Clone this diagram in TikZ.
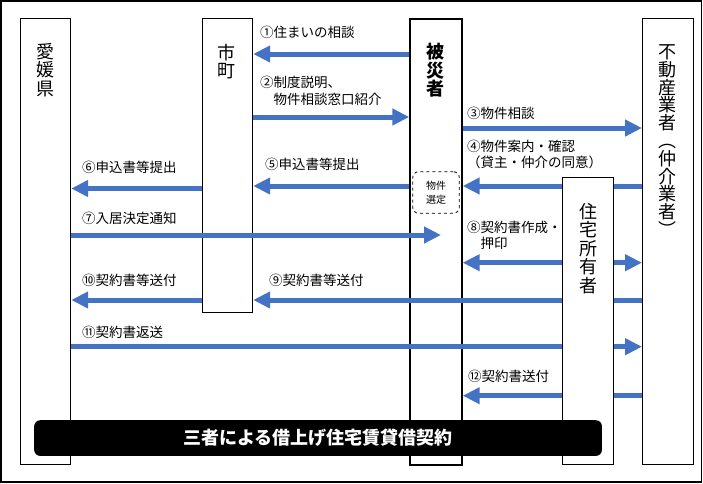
\documentclass[tikz,border=0pt]{standalone}
\usepackage{fontspec}
\setmainfont{Noto Sans CJK JP}
\usetikzlibrary{arrows.meta}
\definecolor{arrblue}{HTML}{4472C4}
\begin{document}
\begin{tikzpicture}[x=1pt,y=-1pt,
 colbox/.style={draw=black, line width=0.9pt, fill=white, inner sep=0pt, anchor=north west},
 coltext/.style={font=\fontsize{18}{18.6}\selectfont, align=center, inner sep=0pt},
 lbl/.style={font=\fontsize{13.5}{16.5}\selectfont, align=left, inner sep=0pt, anchor=west},
 arr/.style={draw=arrblue, line width=5pt, -{Triangle[length=17pt,width=16pt]}},
 darr/.style={draw=arrblue, line width=5pt, {Triangle[length=17pt,width=16pt]}-{Triangle[length=17pt,width=16pt]}},
 bluebar/.style={draw=arrblue, line width=5pt}]
\useasboundingbox (0,0) rectangle (703,483);
\draw[line width=1.2pt] (1,1) rectangle (701.8,482);
% columns
\node[colbox, minimum width=50.3pt, minimum height=445.7pt] (ehime) at (20,18.3) {};
\node[colbox, minimum width=50.8pt, minimum height=293.7pt] (shicho) at (201.5,18.3) {};
\node[colbox, line width=2pt, minimum width=51.4pt, minimum height=445.7pt] (hisai) at (409.3,18.3) {};
\node[colbox, minimum width=51pt, minimum height=445.7pt] (fudo) at (642,18.3) {};
\node[coltext] (ehimet) at (45.2,70) {愛\\媛\\県};
\node[coltext] (shichot) at (226.9,61.5) {市\\町};
\node[coltext, font=\fontsize{18}{18.6}\selectfont\bfseries] (hisait) at (435,70.5) {被\\災\\者};
\node[coltext, font=\fontsize{18}{17.8}\selectfont] (fudot) at (667.5,140.5) {不\\動\\産\\業\\者\\︵\\仲\\介\\業\\者\\︶};
\node[draw, dashed, rounded corners=6pt, fill=white, line width=0.8pt, minimum width=46.6pt, minimum height=41.6pt, inner sep=0pt] (sentei) at (436,192.5) {};
\node[font=\fontsize{10}{14}\selectfont, align=center, inner sep=0pt] (senteit) at (436,192.5) {物件\\選定};
% y levels
\coordinate (y1) at (0,54);
\coordinate (y2) at (0,117);
\coordinate (y3) at (0,128);
\coordinate (y4) at (0,186);
\coordinate (y6) at (0,188.5);
\coordinate (y7) at (0,235);
\coordinate (y8) at (0,262.7);
\coordinate (y9) at (0,300);
\coordinate (y11) at (0,346.7);
\coordinate (y12) at (0,395.7);
\coordinate (t7) at (441,235);
% arrows
\draw[arr] (hisai.west |- y1) -- (shicho.east |- y1);
\draw[arr] (shicho.east |- y2) -- (hisai.west |- y2);
\draw[arr] (hisai.east |- y3) -- (fudo.west |- y3);
\draw[arr] (fudo.west |- y4) -- (hisai.east |- y4);
\draw[arr] (hisai.west |- y4) -- (shicho.east |- y4);
\draw[arr] (shicho.west |- y6) -- (ehime.east |- y6);
\draw[arr] (ehime.east |- y7) -- (t7);
\draw[darr] (hisai.east |- y8) -- (fudo.west |- y8);
\draw[arr] (fudo.west |- y9) -- (shicho.east |- y9);
\draw[arr] (shicho.west |- y9) -- (ehime.east |- y9);
\draw[arr] (ehime.east |- y11) -- (fudo.west |- y11);
\draw[arr] (fudo.west |- y12) -- (hisai.east |- y12);
% labels
\node[lbl] (l1) at (260,32) {①住まいの相談};
\node[lbl] (l2) at (260,91) {②制度説明、\\　物件相談窓口紹介};
\node[lbl] (l3) at (467,113) {③物件相談};
\node[lbl] (l4) at (467,154.5) {④物件案内・確認\\（貸主・仲介の同意）};
\node[lbl] (l5) at (265,164) {⑤申込書等提出};
\node[lbl] (l6) at (82,167) {⑥申込書等提出};
\node[lbl] (l7) at (82,218) {⑦入居決定通知};
\node[lbl] (l8) at (467,235.5) {⑧契約書作成・\\　押印};
\node[lbl] (l9) at (269,280) {⑨契約書等送付};
\node[lbl] (l10) at (82,280) {⑩契約書等送付};
\node[lbl] (l11) at (82,332.7) {⑪契約書返送};
\node[lbl] (l12) at (468,376.7) {⑫契約書送付};
% owner column (on top of arrows)
\node[colbox, minimum width=51pt, minimum height=287pt] (owner) at (562.3,177) {};
\node[coltext] (ownert) at (588,248.5) {住\\宅\\所\\有\\者};
% contract bar
\node[fill=black, rounded corners=6pt, minimum width=567.7pt, minimum height=35.7pt, inner sep=0pt, anchor=north west] (bar) at (34,420) {};
\node[text=white, font=\fontsize{18}{20}\selectfont\bfseries, inner sep=0pt] (bart) at (bar.center) {三者による借上げ住宅賃貸借契約};
\end{tikzpicture}
\end{document}
